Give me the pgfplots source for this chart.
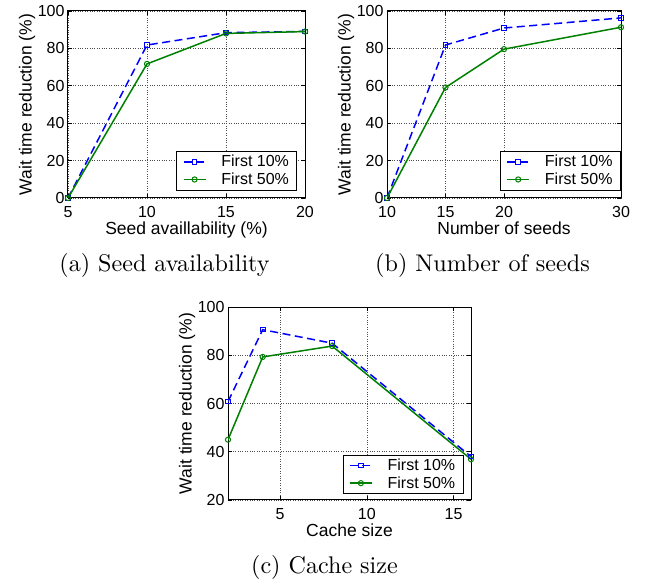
\documentclass[border=0pt]{standalone}
\usepackage{pgfplots}
\pgfplotsset{compat=1.18}
\usepackage{fontspec}
\newfontfamily\axisfont{Liberation Sans}
\definecolor{mblue}{rgb}{0,0,1}
\definecolor{mgreen}{rgb}{0,0.5,0}
\pgfplotsset{
  myax/.style={
    scale only axis,
    axis line style={line width=1pt},
    tick align=inside,
    major tick length=4pt,
    tick style={line width=0.6pt, black},
    grid=major,
    major grid style={dotted, line width=0.6pt, black!70},
    /pgf/number format/assume math mode=true,
    tick label style={font=\axisfont\fontsize{16}{16}\selectfont},
    xticklabel style={anchor=base, yshift=-19.5pt},
    label style={font=\axisfont\fontsize{17.5}{17.5}\selectfont},
    ylabel={Wait time reduction (\%)},
    xlabel style={at={(axis description cs:0.5,0)}, anchor=base, yshift=-37pt},
    ylabel style={at={(axis description cs:0,0.5)}, anchor=center, yshift=41pt},
    legend style={font=\axisfont\fontsize{16}{16}\selectfont, draw=black, line width=1pt,
      legend cell align=left, inner xsep=6pt, inner ysep=2pt, column sep=13pt, row sep=0.5pt,
      nodes={inner xsep=2pt, inner ysep=2pt}},
    legend image code/.code={\draw[mark repeat=2, mark phase=2, #1] plot coordinates {(0pt,0pt) (11pt,0pt) (22pt,0pt)};},
  },
  s10/.style={color=mblue, line width=1.5pt, dash pattern=on 8pt off 4.5pt, mark=square, mark size=2.3pt, mark options={solid, line width=1pt}},
  s50/.style={color=mgreen, line width=1.5pt, solid, mark=o, mark size=2.6pt, mark options={solid, line width=1pt}},
}
\begin{document}
\begin{tikzpicture}
\path[use as bounding box] (0,0) rectangle (656pt,583pt);
% (a)
\begin{axis}[myax, at={(68pt,385pt)}, anchor=south west, width=237pt, height=187pt,
  xmin=5, xmax=20, ymin=0, ymax=100, xtick={5,10,15,20}, ytick={0,20,40,60,80,100},
  xlabel={Seed availlability (\%)},
  legend style={at={(0.968,0.04)}, anchor=south east}]
\addplot[s10] coordinates {(5,0) (10,81.8) (15,88.4) (20,89.1)};
\addlegendentry{First 10\%}
\addplot[s50] coordinates {(5,0) (10,71.7) (15,88) (20,89)};
\addlegendentry{First 50\%}
\end{axis}
% (b)
\begin{axis}[myax, at={(387pt,385pt)}, anchor=south west, width=234pt, height=187pt,
  xmin=10, xmax=30, ymin=0, ymax=100, xtick={10,15,20,30}, ytick={0,20,40,60,80,100},
  xlabel={Number of seeds},
  legend style={at={(1,0.04)}, anchor=south east}]
\addplot[s10] coordinates {(10,0) (15,81.8) (20,90.9) (30,96.3)};
\addlegendentry{First 10\%}
\addplot[s50] coordinates {(10,0) (15,59.1) (20,79.6) (30,91.3)};
\addlegendentry{First 50\%}
\end{axis}
% (c)
\begin{axis}[myax, at={(228pt,83pt)}, anchor=south west, width=243pt, height=193pt,
  xmin=2, xmax=16, ymin=20, ymax=100, xtick={5,10,15}, ytick={20,40,60,80,100},
  xlabel={Cache size},
  legend style={at={(0.97,0.03)}, anchor=south east}]
\addplot[s10] coordinates {(2,60.8) (4,90.6) (8,85.0) (16,38.0)};
\addlegendentry{First 10\%}
\addplot[s50] coordinates {(2,45.0) (4,79.3) (8,83.8) (16,36.9)};
\addlegendentry{First 50\%}
\end{axis}
\node[anchor=base, inner sep=0pt] at (164.5pt,311.3pt) {\scalebox{2.41}{(a) Seed availability}};
\node[anchor=base, inner sep=0pt] at (482.5pt,311.3pt) {\scalebox{2.41}{(b) Number of seeds}};
\node[anchor=base, inner sep=0pt] at (324.5pt,9pt) {\scalebox{2.41}{(c) Cache size}};
\end{tikzpicture}
\end{document}
